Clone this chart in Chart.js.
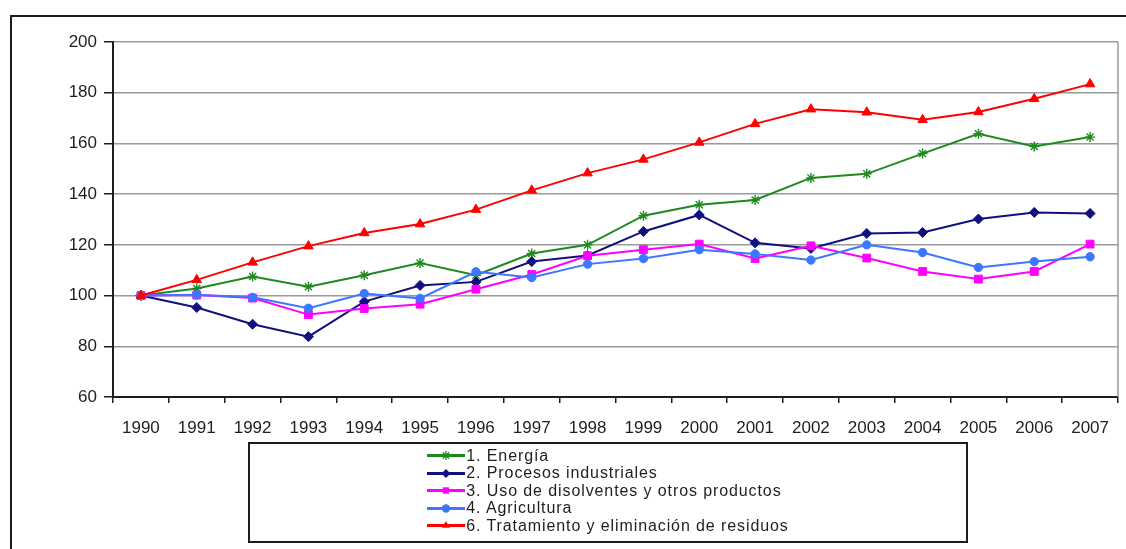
<!DOCTYPE html>
<html lang="es">
<head>
<meta charset="utf-8">
<title>Evolución de emisiones por sector 1990-2007</title>
<script src="https://cdn.jsdelivr.net/npm/chart.js"></script>
<style>
  html, body { margin: 0; padding: 0; background: #fff; overflow: hidden; }
  body { width: 1126px; height: 549px; position: relative; font-family: "Liberation Sans", Arial, sans-serif; }
  #frame { position: absolute; left: 10px; top: 15px; width: 1300px; height: 700px;
           border-left: 2px solid #1e1e1e; border-top: 2px solid #1e1e1e; box-sizing: border-box; }
  #wrap { position: absolute; left: 0; top: 0; width: 1126px; height: 549px; }
  #legend { position: absolute; left: 248px; top: 442px; width: 720px; height: 101px;
            border: 2px solid #1e1e1e; box-sizing: border-box; background: #fff;
            display: flex; justify-content: center; align-items: flex-start; }
  #legend ul { list-style: none; margin: 3px 0 0 0; padding: 0; }
  #legend li { display: flex; align-items: center; height: 17.5px; font-size: 16px; letter-spacing: 0.9px;
               color: #1e1e1e; white-space: pre; }
  #legend canvas { width: 38px; height: 17px; margin-right: 1px; }
</style>
</head>
<body>
<div id="frame"></div>
<div id="wrap"><canvas id="chart" width="1126" height="549"></canvas></div>
<div id="legend"><ul id="legendList"></ul></div>
<script>
// Categories and series (index, 1990 = 100)
const years = ['1990','1991','1992','1993','1994','1995','1996','1997','1998','1999',
               '2000','2001','2002','2003','2004','2005','2006','2007'];

const energia     = [100, 102.8, 107.5, 103.5, 108.0, 112.8, 108.0, 116.6, 120.0, 131.5,
                     135.8, 137.7, 146.4, 148.0, 156.0, 163.8, 158.8, 162.5];
const procesos    = [100, 95.3, 88.7, 83.8, 97.6, 104.0, 105.4, 113.4, 115.8, 125.3,
                     131.8, 120.8, 118.6, 124.5, 124.9, 130.2, 132.8, 132.4];
const disolventes = [100, 100.2, 99.0, 92.5, 94.9, 96.6, 102.5, 108.3, 115.7, 118.1,
                     120.3, 114.6, 119.6, 114.8, 109.5, 106.5, 109.5, 120.3];
const agricultura = [100, 100.3, 99.3, 95.0, 100.8, 98.9, 109.4, 107.1, 112.4, 114.6,
                     118.1, 116.4, 114.0, 120.0, 117.0, 111.1, 113.4, 115.3];
const residuos    = [100, 106.2, 113.1, 119.5, 124.7, 128.2, 133.9, 141.5, 148.3, 153.7,
                     160.4, 167.7, 173.5, 172.3, 169.3, 172.4, 177.6, 183.4];

const seriesNames = ['1. Energía', '2. Procesos industriales', '3. Uso de disolventes y otros productos',
                     '4. Agricultura', '6. Tratamiento y eliminación de residuos'];
const yTicks = [60, 80, 100, 120, 140, 160, 180, 200];

// Styles per series
const colors   = ['#1e8a1e', '#10107e', '#ff00ff', '#3c78ff', '#ff0000'];
const markers  = ['star', 'rectRot', 'rect', 'circle', 'triangle'];
const radii    = [5, 5, 5.5, 4.2, 5.5];
const values   = [energia, procesos, disolventes, agricultura, residuos];

const FONT = '"Liberation Sans", Arial, sans-serif';

const datasets = values.map((v, i) => ({
  label: seriesNames[i],
  data: v,
  borderColor: colors[i],
  backgroundColor: colors[i],
  pointBackgroundColor: colors[i],
  pointBorderColor: colors[i],
  pointStyle: markers[i],
  pointRadius: radii[i],
  pointBorderWidth: markers[i] === 'star' ? 1.4 : 1,
  borderWidth: 2,
  tension: 0,
  fill: false,
  order: values.length - i   // later series painted on top
}));

// Grey frame line on the right side of the plotting area
const plotEdge = {
  id: 'plotEdge',
  beforeDatasetsDraw(chart) {
    const a = chart.chartArea, ctx = chart.ctx;
    ctx.save();
    ctx.strokeStyle = '#9a9a9a';
    ctx.lineWidth = 1.5;
    ctx.beginPath();
    ctx.moveTo(a.right, a.top);
    ctx.lineTo(a.right, a.bottom);
    ctx.stroke();
    ctx.restore();
  }
};

new Chart(document.getElementById('chart'), {
  type: 'line',
  data: { labels: years, datasets },
  plugins: [plotEdge],
  options: {
    responsive: false,
    animation: false,
    events: [],
    layout: { padding: { left: 10, right: 8, top: 42, bottom: 0 } },
    plugins: { legend: { display: false }, tooltip: { enabled: false } },
    scales: {
      x: {
        offset: true,
        afterFit(scale) { scale.height = 152; },
        grid: { display: true, offset: true, drawOnChartArea: false, drawTicks: true,
                tickLength: 6, tickColor: '#1e1e1e', lineWidth: 1.5 },
        border: { display: true, color: '#1e1e1e', width: 2 },
        ticks: { color: '#1e1e1e', font: { family: FONT, size: 17 }, padding: 15,
                 maxRotation: 0, autoSkip: false }
      },
      y: {
        min: yTicks[0],
        max: yTicks[yTicks.length - 1],
        afterFit(scale) { scale.width = 103; },
        afterBuildTicks(scale) { scale.ticks = yTicks.map(v => ({ value: v })); },
        grid: { color: '#9a9a9a', lineWidth: 1.5, tickColor: '#1e1e1e', tickLength: 9 },
        border: { display: true, color: '#1e1e1e', width: 2 },
        ticks: { color: '#1e1e1e', font: { family: FONT, size: 17 }, padding: 7 }
      }
    }
  }
});

// Legend: one row per series, line sample with its marker
function drawMarker(ctx, style, r, x, y, color) {
  ctx.fillStyle = color;
  ctx.strokeStyle = color;
  ctx.lineWidth = 1.3;
  ctx.beginPath();
  if (style === 'circle') {
    ctx.arc(x, y, r, 0, Math.PI * 2); ctx.fill();
  } else if (style === 'rect') {
    const s = r * Math.SQRT1_2; ctx.fillRect(x - s, y - s, 2 * s, 2 * s);
  } else if (style === 'rectRot') {
    ctx.moveTo(x, y - r); ctx.lineTo(x + r, y); ctx.lineTo(x, y + r); ctx.lineTo(x - r, y); ctx.closePath(); ctx.fill();
  } else if (style === 'triangle') {
    ctx.moveTo(x, y - r); ctx.lineTo(x + r * 0.87, y + r * 0.5); ctx.lineTo(x - r * 0.87, y + r * 0.5); ctx.closePath(); ctx.fill();
  } else if (style === 'star') {
    const d = r * Math.SQRT1_2;
    ctx.moveTo(x - d, y - d); ctx.lineTo(x + d, y + d);
    ctx.moveTo(x + d, y - d); ctx.lineTo(x - d, y + d);
    ctx.moveTo(x, y - r); ctx.lineTo(x, y + r);
    ctx.stroke();
  }
}

const list = document.getElementById('legendList');
seriesNames.forEach((name, i) => {
  const li = document.createElement('li');
  const c = document.createElement('canvas');
  c.width = 38; c.height = 17;
  const ctx = c.getContext('2d');
  ctx.strokeStyle = colors[i];
  ctx.lineWidth = 3;
  ctx.beginPath(); ctx.moveTo(0, 8.5); ctx.lineTo(38, 8.5); ctx.stroke();
  drawMarker(ctx, markers[i], Math.min(radii[i], 4.5), 19, 8.5, colors[i]);
  const span = document.createElement('span');
  span.textContent = name;
  li.appendChild(c);
  li.appendChild(span);
  list.appendChild(li);
});
</script>
</body>
</html>
